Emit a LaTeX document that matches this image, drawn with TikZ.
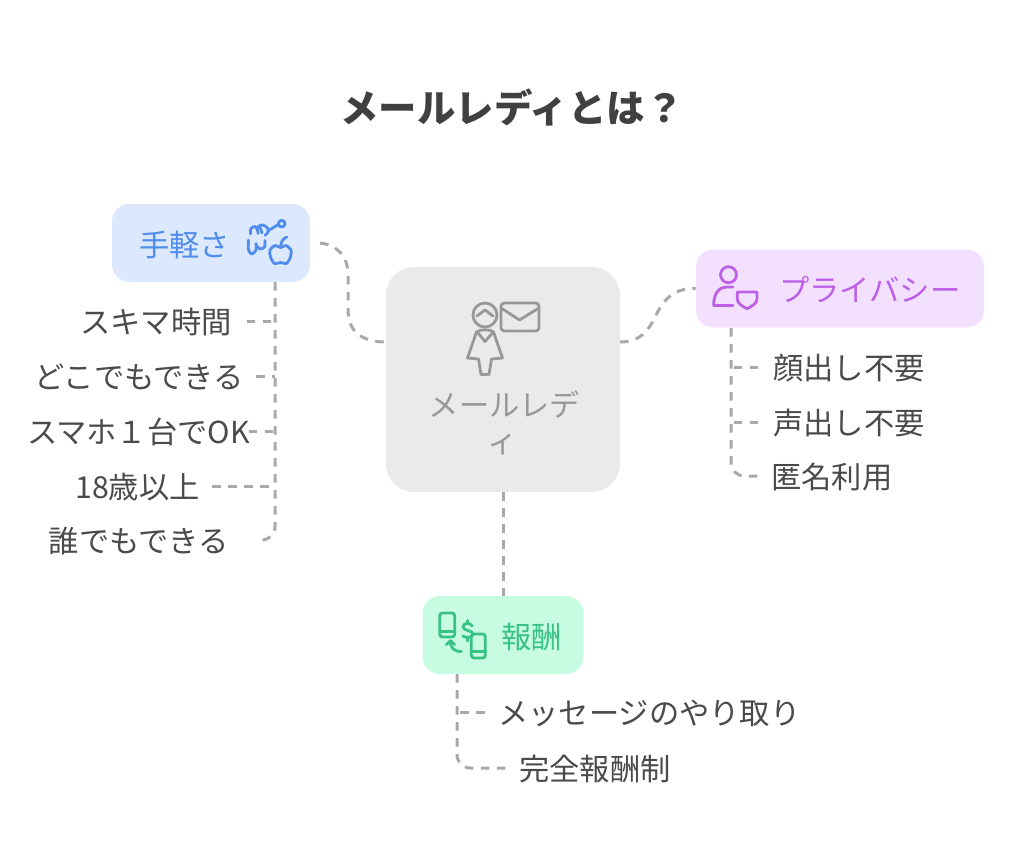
\documentclass[tikz,border=0pt]{standalone}
\usepackage{fontspec}
\newfontfamily\cjk{Noto Sans CJK JP}
\usetikzlibrary{arrows.meta,positioning}

\definecolor{hubfill}{HTML}{EAEAEA}
\definecolor{hubink}{HTML}{989898}
\definecolor{handfill}{HTML}{DBE8FE}
\definecolor{handink}{HTML}{4F8CEB}
\definecolor{privfill}{HTML}{F3E0FF}
\definecolor{privink}{HTML}{BE5FE8}
\definecolor{payfill}{HTML}{C7FCE2}
\definecolor{payink}{HTML}{38C283}
\definecolor{linkgray}{HTML}{A9A9A9}
\definecolor{itemink}{HTML}{4A4A4A}
\definecolor{titleink}{HTML}{404040}

\begin{document}
\begin{tikzpicture}[
  x=0.75pt, y=-0.75pt,
  every node/.style={inner sep=0pt, text height=19pt, text depth=0.5pt},
  item/.style={font=\cjk\fontsize{22.7}{26}\selectfont, text=itemink},
  head/.style={font=\cjk\fontsize{22.7}{26}\selectfont},
  box/.style={rounded corners=13pt, minimum height=58.5pt},
  link/.style={draw=linkgray, line width=2.25pt, dash pattern=on 6.5pt off 5.5pt},
  icon/.style={line width=2.1pt, line cap=round, line join=round}
]
\useasboundingbox (0,0) rectangle (1024,860);

% Title
\node (title) [font=\cjk\bfseries\fontsize{28.8}{32}\selectfont, text=titleink] at (512,110) {メールレディとは？};

% Boxes
\node (hub)  [fill=hubfill, rounded corners=21pt, minimum width=175.5pt, minimum height=168.75pt] at (503,379.5) {};
\node (hand) [box, fill=handfill, minimum width=148.5pt] at (211,243) {};
\node (priv) [box, fill=privfill, minimum width=216pt] at (840,288.5) {};
\node (pay)  [box, fill=payfill, minimum width=120.75pt] at (503,635) {};

% Box labels
\node (hublabel)  [head, text=hubink] at (504.5,404) {メールレデ};
\node (hublabel2) [head, text=hubink] at (503,440) {ィ};
\node (handlabel) [head, text=handink, anchor=west] at (139,244) {手軽さ};
\node (privlabel) [head, text=privink, anchor=west] at (779,289) {プライバシー};
\node (paylabel)  [head, text=payink, anchor=west] at (501,636) {報酬};

% Left items
\node (skima) [item, anchor=east] at (232,321) {スキマ時間};
\node (doko)  [item, anchor=east] at (244,376) {どこでもできる};
\node (sumaho)[item, anchor=east] at (250,431) {スマホ１台でOK};
\node (age)   [item, anchor=east] at (200,486) {18歳以上};
\node (dare)  [item, anchor=east] at (229,540) {誰でもできる};

% Right items
\node (kao)   [item, anchor=west] at (773,367) {顔出し不要};
\node (koe)   [item, anchor=west] at (773,422) {声出し不要};
\node (tokumei)[item, anchor=west] at (771,476) {匿名利用};

% Bottom items
\node (msg)   [item, anchor=west] at (498,712) {メッセージのやり取り};
\node (kanzen)[item, anchor=west] at (519,768) {完全報酬制};

% Free ends
\coordinate (handR) at (320,243);
\coordinate (hubL)  at (386,342);
\coordinate (hubR)  at (620,342);
\coordinate (handT) at (275,282);
\coordinate (privT) at (731,328);
\coordinate (payT)  at (457,674);

% Links from the hub
\draw[link] (handR) .. controls (338,245) and (348,257) .. (348,275) -- (348,310) .. controls (348,330) and (360,342) .. (hubL);
\draw[link] (hubR) .. controls (648,342) and (652,320) .. (660,308) .. controls (668,294) and (680,288) .. (priv.west);
\draw[link] (hub.south) -- (pay.north);

% Left tree
\draw[link, rounded corners=10pt] (handT) |- ([xshift=22.5pt]dare.east);
\draw[link] ([xshift=11pt]skima.east) -- (skima.east -| handT);
\draw[link] ([xshift=9pt]doko.east) -- (doko.east -| handT);
\draw[link] ([xshift=-1pt]sumaho.east) -- (sumaho.east -| handT);
\draw[link] ([xshift=9pt]age.east) -- (age.east -| handT);

% Right tree
\draw[link, rounded corners=10pt] (privT) |- ([xshift=-10pt]tokumei.west);
\draw[link] ([xshift=-11pt]kao.west) -- (kao.west -| privT);
\draw[link] ([xshift=-11pt]koe.west) -- (koe.west -| privT);

% Bottom tree
\draw[link, rounded corners=10pt] (payT) |- ([xshift=-10pt]kanzen.west);
\draw[link] ([xshift=-10pt]msg.west) -- (msg.west -| payT);

% Hub icon
\begin{scope}[icon, draw=hubink]
  \draw (485,315) circle [radius=9pt];
  \draw (477,316) -- (485,310) -- (493,316);
  \draw[rounded corners=2.5pt] (501,303) rectangle (539,331);
  \draw (501,308) -- (519.5,320) -- (539,308);
  \draw (476.5,332) .. controls (480,329) and (490,329) .. (493.5,332) -- (502.5,358) -- (491.5,359) -- (489,374.5) -- (481,374.5) -- (478.5,359) -- (467.5,358) -- cycle;
  \draw (478,333) -- (485,341.5) -- (492.5,333);
\end{scope}

% Hand icon
\begin{scope}[icon, draw=handink]
  \draw (281.7,223.7) circle [radius=2.5pt];
  \draw (277.5,225) -- (268.5,230.5);
  \draw plot[smooth] coordinates {(250.5,234) (251,228.5) (255,226.5) (257.5,230) (258,233.5)};
  \draw plot[smooth] coordinates {(257,229) (259,226) (263,225) (267.5,228) (268,232) (265,235.5)};
  \draw (260.5,228) -- (262,233);
  \draw plot[smooth] coordinates {(248.5,240) (248.5,250) (252,254) (256,250) (256,243.5)};
  \draw plot[smooth] coordinates {(256,245) (260,249) (264.5,247) (265,240.5)};
  \draw plot[smooth cycle] coordinates {(280.7,247.5) (286,245.5) (291,250) (290.5,257) (286.5,263.5) (280.7,262.5) (274.5,263.5) (270.5,257) (270,250) (275,245.5)};
  \draw (280.7,247) .. controls (280.7,242) and (283,238.5) .. (286.7,237);
\end{scope}

% Privacy icon
\begin{scope}[icon, draw=privink]
  \draw (728.5,274.7) circle [radius=6pt];
  \draw (733,287) -- (726,287) .. controls (719,287) and (713.5,294) .. (713.7,305.5) -- (733,305.5);
  \draw (737.3,292) -- (757,292) -- (757,299) .. controls (757,303) and (752,306.5) .. (747,308.7) .. controls (742,306.5) and (737.3,303) .. (737.3,299) -- cycle;
\end{scope}

% Payment icon
\begin{scope}[icon, draw=payink]
  \draw[rounded corners=2pt] (439.7,613) rectangle (454.7,637);
  \draw (439.7,631.3) -- (454.7,631.3);
  \draw[rounded corners=2pt] (471.3,634) rectangle (485.3,658);
  \draw (471.3,651.3) -- (485.3,651.3);
  \draw (472.3,626) .. controls (470,622) and (463,623) .. (463,627) .. controls (463,631) and (473,630) .. (473,634) .. controls (473,638) and (465,638) .. (463,636);
  \draw (467.5,620.5) -- (467.5,623.5) (467.5,638) -- (467.5,641);
  \draw (461.3,651.5) .. controls (454,651.5) and (450.5,648) .. (450.5,641.5);
  \draw (446.3,644.7) -- (450.5,640.7) -- (454.7,644.7);
\end{scope}

\end{tikzpicture}
\end{document}
